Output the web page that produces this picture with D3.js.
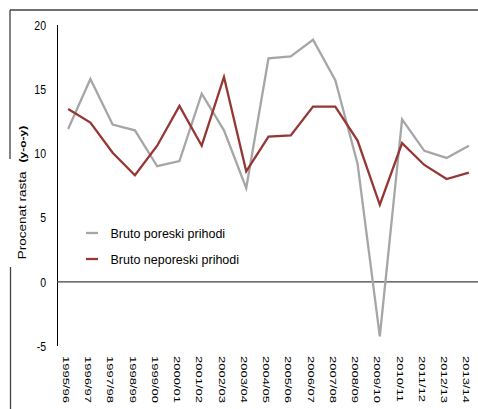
<!DOCTYPE html>
<html><head><meta charset="utf-8">
<script src="https://cdn.jsdelivr.net/npm/d3@7"></script>
<style>body{margin:0;background:#fff}svg{display:block}text{font-family:"Liberation Sans",Arial,sans-serif;fill:#000}</style>
</head><body><svg id="c" width="478" height="409"></svg>
<script>
const categories = ["1995/96","1996/97","1997/98","1998/99","1999/00","2000/01","2001/02","2002/03","2003/04","2004/05","2005/06","2006/07","2007/08","2008/09","2009/10","2010/11","2011/12","2012/13","2013/14"];
const poreski = [11.9,15.8,12.25,11.8,9.0,9.4,14.65,11.8,7.3,17.4,17.55,18.85,15.7,9.2,-4.25,12.65,10.2,9.65,10.6];
const neporeski = [13.45,12.4,10.05,8.3,10.6,13.7,10.6,15.95,8.6,11.3,11.4,13.65,13.65,11.0,6.0,10.8,9.1,8.0,8.5];
const yTicks = [20,15,10,5,0,-5];
const seriesNames = ["Bruto poreski prihodi","Bruto neporeski prihodi"];
const colors = ["#a6a6a6","#953735"];

const svg = d3.select("#c");
const x = d3.scaleBand().domain(categories).range([57,480]);
const y = d3.scaleLinear().domain([-5,20]).range([346,25]);
const cx = d => x(d) + x.bandwidth()/2;

// frame
svg.append("line").attr("x1",10).attr("x2",478).attr("y1",10).attr("y2",10).attr("stroke","#404040").attr("stroke-width",1.3);
svg.append("line").attr("x1",10).attr("x2",10).attr("y1",10).attr("y2",159).attr("stroke","#404040").attr("stroke-width",1.3);
svg.append("line").attr("x1",10.5).attr("x2",10.5).attr("y1",267).attr("y2",409).attr("stroke","#404040").attr("stroke-width",1.3);

// y axis
svg.append("line").attr("x1",57.5).attr("x2",57.5).attr("y1",y(20)).attr("y2",y(-5)).attr("stroke","#000").attr("stroke-width",1);
svg.append("line").attr("x1",57).attr("x2",478).attr("y1",y(0)).attr("y2",y(0)).attr("stroke","#404040").attr("stroke-width",1.2);
svg.selectAll(".yt").data(yTicks).enter().append("text")
  .attr("transform",d=>`translate(46,${y(d)}) scale(0.78,1)`)
  .attr("text-anchor","end").attr("dy","0.36em").style("font-size","13.5px").text(d=>d);

// x labels
svg.selectAll(".xt").data(categories).enter().append("text")
  .attr("transform",d=>`translate(${cx(d)-2},356) scale(0.75,1) rotate(90)`)
  .attr("text-anchor","start").attr("dy","0.35em").style("font-size","13px").text(d=>d);

// title
const t = svg.append("text").attr("transform","translate(22,192.5) scale(0.8,1) rotate(-90)")
  .attr("text-anchor","middle").attr("dy","0.35em");
t.append("tspan").style("font-size","13.5px").text("Procenat rasta");
t.append("tspan").attr("dx",9).style("font-size","12px").style("font-weight","bold").text("(y-o-y)");

// lines
const line = d3.line().x((d,i)=>cx(categories[i])).y(d=>y(d));
[poreski, neporeski].forEach((s,k)=>{
  svg.append("path").datum(s).attr("d",line).attr("fill","none")
    .attr("stroke",colors[k]).attr("stroke-width",2.3).attr("stroke-linejoin","miter");
});

// legend
seriesNames.forEach((n,k)=>{
  const ly = 233 + k*26;
  svg.append("line").attr("x1",86).attr("x2",98).attr("y1",ly).attr("y2",ly).attr("stroke",colors[k]).attr("stroke-width",2.3);
  svg.append("text").attr("x",110.5).attr("y",ly).attr("dy","0.36em").style("font-size","12.5px").text(n);
});
</script></body></html>
